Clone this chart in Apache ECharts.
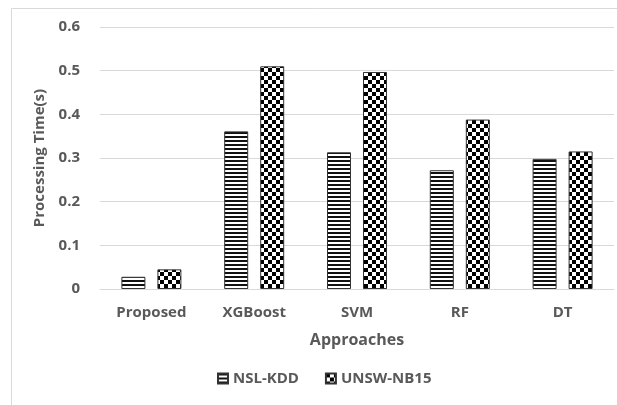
<!DOCTYPE html>
<html><head><meta charset="utf-8">
<script src="https://cdn.jsdelivr.net/npm/echarts@6/dist/echarts.min.js"></script>
<style>html,body{margin:0;padding:0;background:#fff}#c{width:617px;height:405px}</style>
</head><body><div id="c"></div>
<script>
const categories = ['Proposed', 'XGBoost', 'SVM', 'RF', 'DT'];
const nslKdd = [0.028, 0.361, 0.313, 0.272, 0.298];
const unswNb15 = [0.045, 0.510, 0.497, 0.388, 0.315];
const seriesNames = ['NSL-KDD', 'UNSW-NB15'];

function stripes() {
  const c = document.createElement('canvas'); c.width = 4; c.height = 4;
  const g = c.getContext('2d');
  g.fillStyle = '#fff'; g.fillRect(0, 0, 4, 4);
  g.fillStyle = '#111'; g.fillRect(0, 0, 4, 2);
  return c;
}
function checker() {
  const c = document.createElement('canvas'); c.width = 8; c.height = 8;
  const g = c.getContext('2d');
  g.fillStyle = '#fff'; g.fillRect(0, 0, 8, 8);
  g.fillStyle = '#000'; g.fillRect(0, 0, 4, 4); g.fillRect(4, 4, 4, 4);
  return c;
}
const txt = '#595959';
const font = 'Open Sans';
const chart = echarts.init(document.getElementById('c'), null, {renderer: 'canvas'});
chart.setOption({
  animation: false,
  graphic: [{type: 'rect', shape: {x: 11.5, y: 8.5, width: 610, height: 400}, style: {fill: 'none', stroke: '#d9d9d9', lineWidth: 1}}],
  grid: {left: 100, right: 3, top: 27, bottom: 116},
  legend: {
    bottom: 14, left: 212, itemWidth: 10, itemHeight: 10, itemGap: 26, icon: 'rect',
    data: seriesNames,
    textStyle: {color: txt, fontFamily: font, fontWeight: 'bold', fontSize: 15}
  },
  xAxis: {
    type: 'category', data: categories,
    name: 'Approaches', nameLocation: 'middle', nameGap: 43,
    nameTextStyle: {color: txt, fontFamily: font, fontWeight: 'bold', fontSize: 16},
    axisLine: {lineStyle: {color: '#d9d9d9'}}, axisTick: {show: false},
    axisLabel: {color: txt, fontFamily: font, fontWeight: 'bold', fontSize: 15, margin: 16}
  },
  yAxis: {
    type: 'value', min: 0, max: 0.6, interval: 0.1,
    name: 'Processing Time(s)', nameLocation: 'middle', nameGap: 52,
    nameTextStyle: {color: txt, fontFamily: font, fontWeight: 'bold', fontSize: 15},
    axisLine: {show: false}, axisTick: {show: false},
    splitLine: {lineStyle: {color: '#d9d9d9'}},
    axisLabel: {color: txt, fontFamily: font, fontWeight: 'bold', fontSize: 15, margin: 20,
      formatter: v => v === 0 ? '0' : v.toFixed(1)}
  },
  series: [
    {name: seriesNames[0], type: 'bar', data: nslKdd, barWidth: 24, barGap: '50%',
      itemStyle: {color: {image: stripes(), repeat: 'repeat'}, borderColor: '#333', borderWidth: 1}},
    {name: seriesNames[1], type: 'bar', data: unswNb15, barWidth: 24,
      itemStyle: {color: {image: checker(), repeat: 'repeat'}, borderColor: '#333', borderWidth: 1}}
  ]
});
</script></body></html>
